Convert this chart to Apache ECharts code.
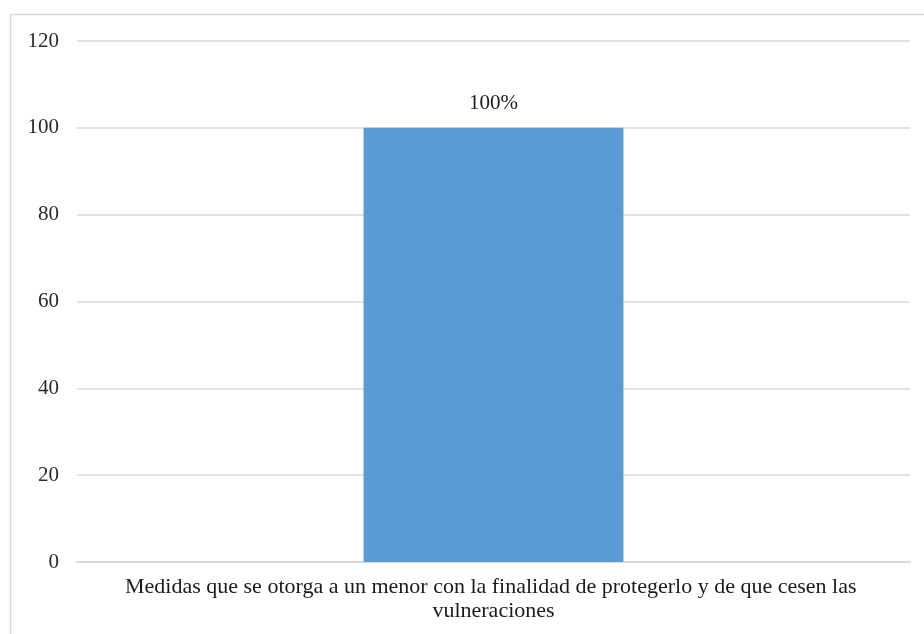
<!DOCTYPE html>
<html>
<head>
<meta charset="utf-8">
<script src="https://cdn.jsdelivr.net/npm/echarts@6/dist/echarts.min.js"></script>
<style>html,body{margin:0;padding:0;background:#fff}#c{width:924px;height:634px}</style>
</head>
<body>
<div id="c"></div>
<script>
const categories = ['Medidas que se otorga a un menor con la finalidad de protegerlo y de que cesen las vulneraciones'];
const values = [100];
const valueLabels = ['100%'];

const chart = echarts.init(document.getElementById('c'), null, {renderer: 'canvas'});
const font = '"Liberation Serif", "Times New Roman", serif';
chart.setOption({
  animation: false,
  backgroundColor: '#fff',
  graphic: [
    {type: 'polyline', shape: {points: [[10.5, 640], [10.5, 14.5], [930, 14.5]]}, style: {stroke: '#d9d9d9', lineWidth: 1.5, fill: null}}
  ],
  grid: {left: 77, right: 14, top: 41, bottom: 72, containLabel: false},
  xAxis: {
    type: 'category',
    data: categories,
    axisLine: {show: true, lineStyle: {color: '#d9d9d9', width: 2}},
    axisTick: {show: false},
    axisLabel: {
      interval: 0, width: 780, overflow: 'break', margin: 13,
      fontFamily: font, fontSize: 22, color: '#1a1a1a', lineHeight: 24
    }
  },
  yAxis: {
    type: 'value', min: 0, max: 120, interval: 20,
    axisLine: {show: false}, axisTick: {show: false},
    splitLine: {lineStyle: {color: '#d9d9d9', width: 1.5}},
    axisLabel: {fontFamily: font, fontSize: 21, color: '#2a2a2a', margin: 18}
  },
  series: [{
    type: 'bar',
    data: values,
    barWidth: '31.2%',
    itemStyle: {color: '#5b9bd5'},
    label: {
      show: true, position: 'top', distance: 14,
      formatter: p => valueLabels[p.dataIndex],
      fontFamily: font, fontSize: 21, color: '#1a1a1a'
    }
  }]
});
</script>
</body>
</html>
